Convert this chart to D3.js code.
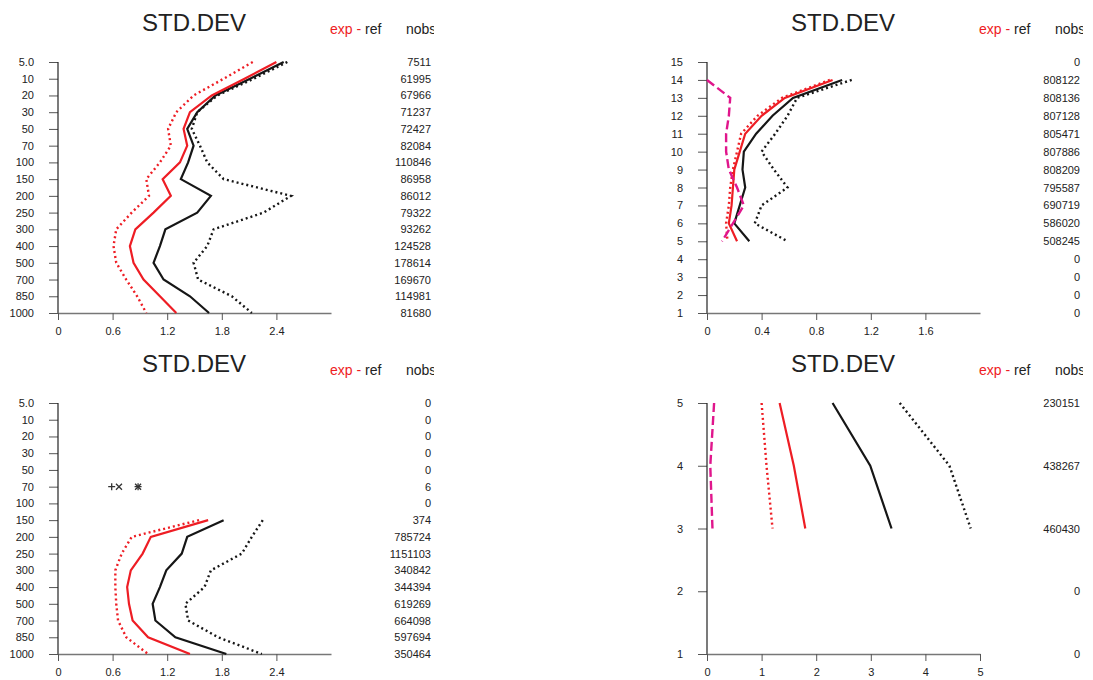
<!DOCTYPE html>
<html><head><meta charset="utf-8">
<script src="https://cdn.jsdelivr.net/npm/d3@7"></script>
<style>
html,body{margin:0;padding:0;background:#fff;}
svg{display:block;font-family:"Liberation Sans",Arial,Helvetica,sans-serif;}
</style></head>
<body>
<svg id="chart" width="1093" height="680"></svg>
<script>
// ---------------- DATA ----------------
const pressureLevels = ["5.0","10","20","30","50","70","100","150","200","250","300","400","500","700","850","1000"];
const channelLevels = ["15","14","13","12","11","10","9","8","7","6","5","4","3","2","1"];
const smallLevels = ["5","4","3","2","1"];

const ticksA = [0,0.6,1.2,1.8,2.4];
const ticksALabels = ["0","0.6","1.2","1.8","2.4"];
const ticksB = [0,0.4,0.8,1.2,1.6];
const ticksBLabels = ["0","0.4","0.8","1.2","1.6"];
const ticksC = [0,1,2,3,4,5];
const ticksCLabels = ["0","1","2","3","4","5"];

// Panel 1 (top-left)
const p1RedSolid   = [2.40,2.05,1.69,1.45,1.38,1.42,1.34,1.15,1.24,1.05,0.85,0.79,0.83,0.94,1.12,1.30];
const p1RedDotted  = [2.14,1.82,1.49,1.30,1.21,1.24,1.12,0.97,1.00,0.81,0.64,0.61,0.64,0.75,0.87,0.97];
const p1BlackSolid = [2.48,2.11,1.73,1.53,1.42,1.49,1.43,1.35,1.68,1.53,1.18,1.12,1.05,1.16,1.45,1.66];
const p1BlackDotted= [2.52,2.15,1.75,1.53,1.47,1.56,1.64,1.82,2.56,2.26,1.71,1.64,1.49,1.54,1.91,2.13];
const p1Nobs = [7511,61995,67966,71237,72427,82084,110846,86958,86012,79322,93262,124528,178614,169670,114981,81680];

// Panel 2 (top-right)
const p2RedSolid   = [null,0.92,0.57,0.40,0.28,0.24,0.20,0.19,0.18,0.16,0.22,null,null,null,null];
const p2RedDotted  = [null,0.90,0.55,0.37,0.25,0.22,0.19,0.17,0.16,0.14,0.15,null,null,null,null];
const p2BlackSolid = [null,0.99,0.63,0.48,0.36,0.27,0.26,0.28,0.24,0.20,0.31,null,null,null,null];
const p2BlackDotted= [null,1.06,0.66,0.59,0.50,0.40,0.49,0.59,0.40,0.35,0.59,null,null,null,null];
const p2Magenta    = [null,0.00,0.17,0.16,0.14,0.14,0.16,0.22,0.27,0.19,0.11,null,null,null,null];
const p2Nobs = [0,808122,808136,807128,805471,807886,808209,795587,690719,586020,508245,0,0,0,0];

// Panel 3 (bottom-left)
const p3RedSolid   = [null,null,null,null,null,null,null,1.65,1.02,0.93,0.80,0.76,0.78,0.82,0.99,1.45];
const p3RedDotted  = [null,null,null,null,null,null,null,1.55,0.81,0.70,0.63,0.63,0.64,0.66,0.75,0.99];
const p3BlackSolid = [null,null,null,null,null,null,null,1.82,1.42,1.36,1.19,1.12,1.04,1.07,1.29,1.85];
const p3BlackDotted= [null,null,null,null,null,null,null,2.25,2.13,2.02,1.68,1.61,1.40,1.43,1.76,2.24];
const p3MarkLevel = "70";
const p3MarkPlus  = [0.59,0.88];
const p3MarkCross = [0.67,0.88];
const p3Nobs = [0,0,0,0,0,6,0,374,785724,1151103,340842,344394,619269,664098,597694,350464];

// Panel 4 (bottom-right)
const p4RedSolid   = [1.33,1.59,1.80,null,null];
const p4RedDotted  = [1.00,1.09,1.20,null,null];
const p4BlackSolid = [2.30,2.99,3.38,null,null];
const p4BlackDotted= [3.53,4.44,4.83,null,null];
const p4Magenta    = [0.13,0.06,0.10,null,null];
const p4Nobs = [230151,438267,460430,0,0];

// ---------------- STYLE ----------------
const RED = "#ee1d24", BLACK = "#161616", MAGENTA = "#e0168c";

const svg = d3.select("#chart");

function drawPanel(ox, oy, cfg, idx){
  const clipId = "clip"+idx;
  svg.append("clipPath").attr("id",clipId).append("rect")
     .attr("x",0).attr("y",0).attr("width",434).attr("height",341);
  const g = svg.append("g").attr("transform",`translate(${ox},${oy})`).attr("clip-path",`url(#${clipId})`);

  const x = d3.scaleLinear().domain(cfg.xDomain).range([58,331]);
  const y = d3.scalePoint().domain(cfg.levels).range([62,313]);

  // title & legend
  g.append("text").attr("x",194).attr("y",31).attr("text-anchor","middle")
    .attr("font-size",24).attr("fill","#222").text("STD.DEV");
  const lg = g.append("text").attr("x",330).attr("y",34).attr("font-size",14);
  lg.append("tspan").attr("fill",RED).text("exp - ");
  lg.append("tspan").attr("fill","#222").text("ref");
  g.append("text").attr("x",406).attr("y",34).attr("font-size",14).attr("fill","#222").text("nobs");

  // y axis
  const yAxis = g.append("g").attr("transform","translate(58,0)")
    .call(d3.axisLeft(y).tickSize(9).tickPadding(15));
  yAxis.select(".domain").remove();
  yAxis.selectAll(".tick line").attr("stroke","#555");
  yAxis.selectAll(".tick text").attr("font-size",11).attr("fill","#222")
    .attr("font-family","'Liberation Sans',Arial,sans-serif");
  g.append("line").attr("x1",58).attr("x2",58).attr("y1",y(cfg.levels[0])).attr("y2",313)
    .attr("stroke","#222").attr("stroke-width",1.2);

  // x axis
  const xAxis = g.append("g").attr("transform","translate(0,313)")
    .call(d3.axisBottom(x).tickValues(cfg.ticks).tickFormat((d,i)=>cfg.tickLabels[i]).tickSize(7).tickSizeOuter(0).tickPadding(7));
  xAxis.select(".domain").attr("stroke","#777").attr("stroke-width",1.5);
  xAxis.selectAll(".tick line").attr("stroke","#555");
  xAxis.selectAll(".tick text").attr("font-size",11).attr("fill","#222")
    .attr("font-family","'Liberation Sans',Arial,sans-serif");

  // series
  const line = d3.line().defined(d=>d.v!=null).x(d=>x(d.v)).y(d=>y(d.l));
  const mk = arr => arr.map((v,i)=>({v:v,l:cfg.levels[i]}));
  const styles = {
    redDotted:{c:RED,w:2.4,dash:"2,3"},
    blackDotted:{c:BLACK,w:2.4,dash:"2,3"},
    redSolid:{c:RED,w:2.2,dash:null},
    blackSolid:{c:BLACK,w:2.2,dash:null},
    magenta:{c:MAGENTA,w:2.4,dash:"9,4"}
  };
  ["blackDotted","redDotted","blackSolid","redSolid","magenta"].forEach(k=>{
    if(!cfg.series[k]) return;
    const s = styles[k];
    g.append("path").datum(mk(cfg.series[k])).attr("d",line)
      .attr("fill","none").attr("stroke",s.c).attr("stroke-width",s.w)
      .attr("stroke-dasharray",s.dash).attr("stroke-linejoin","miter");
  });

  // markers
  if(cfg.markPlus){
    const yy = y(cfg.markLevel);
    cfg.markPlus.forEach(v=>{
      const xx = x(v);
      g.append("path").attr("d",`M${xx-3.5},${yy}H${xx+3.5}M${xx},${yy-3.5}V${yy+3.5}`)
        .attr("stroke","#333").attr("stroke-width",1.3);
    });
    cfg.markCross.forEach(v=>{
      const xx = x(v);
      g.append("path").attr("d",`M${xx-3},${yy-3}L${xx+3},${yy+3}M${xx-3},${yy+3}L${xx+3},${yy-3}`)
        .attr("stroke","#333").attr("stroke-width",1.3);
    });
  }

  // nobs column
  g.append("g").selectAll("text").data(cfg.nobs).join("text")
    .attr("x",431).attr("y",(d,i)=>y(cfg.levels[i])+4)
    .attr("text-anchor","end").attr("font-size",11).attr("fill","#222")
    .text(d=>d);
}

drawPanel(0,0,{levels:pressureLevels,xDomain:[0,3],ticks:ticksA,tickLabels:ticksALabels,
  series:{redSolid:p1RedSolid,redDotted:p1RedDotted,blackSolid:p1BlackSolid,blackDotted:p1BlackDotted},
  nobs:p1Nobs},1);
drawPanel(649,0,{levels:channelLevels,xDomain:[0,2],ticks:ticksB,tickLabels:ticksBLabels,
  series:{redSolid:p2RedSolid,redDotted:p2RedDotted,blackSolid:p2BlackSolid,blackDotted:p2BlackDotted,magenta:p2Magenta},
  nobs:p2Nobs},2);
drawPanel(0,341,{levels:pressureLevels,xDomain:[0,3],ticks:ticksA,tickLabels:ticksALabels,
  series:{redSolid:p3RedSolid,redDotted:p3RedDotted,blackSolid:p3BlackSolid,blackDotted:p3BlackDotted},
  markLevel:p3MarkLevel,markPlus:p3MarkPlus,markCross:p3MarkCross,
  nobs:p3Nobs},3);
drawPanel(649,341,{levels:smallLevels,xDomain:[0,5],ticks:ticksC,tickLabels:ticksCLabels,
  series:{redSolid:p4RedSolid,redDotted:p4RedDotted,blackSolid:p4BlackSolid,blackDotted:p4BlackDotted,magenta:p4Magenta},
  nobs:p4Nobs},4);
</script>
</body></html>
